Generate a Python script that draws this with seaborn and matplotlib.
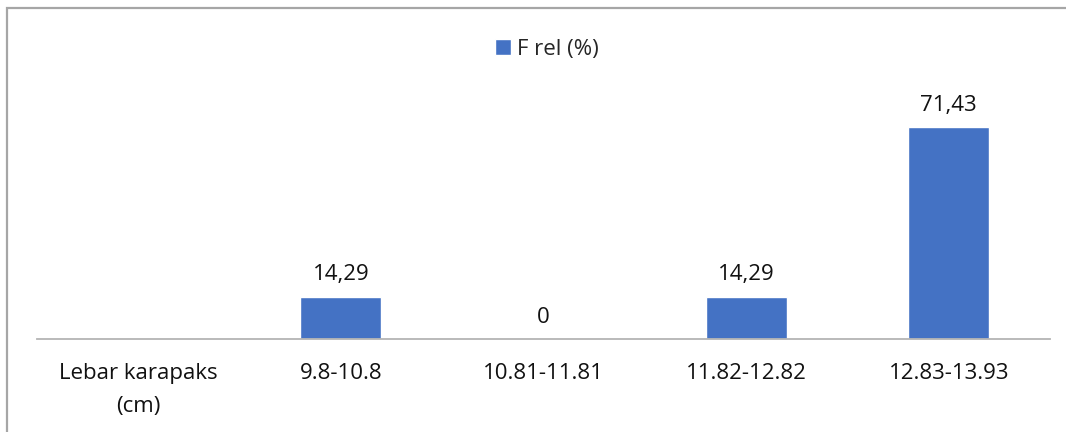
import numpy as np
import pandas as pd
import seaborn as sns
import matplotlib.pyplot as plt
from matplotlib.patches import Rectangle

categories = ["Lebar karapaks\n(cm)", "9.8-10.8", "10.81-11.81", "11.82-12.82", "12.83-13.93"]
f_rel = [np.nan, 14.29, 0, 14.29, 71.43]
series_name = "F rel (%)"

sns.set_theme(style="white")
plt.rcParams["font.family"] = ["Open Sans", "DejaVu Sans"]
FS = 16

df = pd.DataFrame({"kelas": categories, "f_rel": f_rel})

fig = plt.figure(figsize=(10.66, 4.32), dpi=100)
ax = fig.add_axes([37 / 1066, 93 / 432, 1013 / 1066, 237.4 / 432])

sns.barplot(data=df, x="kelas", y="f_rel", order=categories, color="#4472C4",
            width=0.4, label=series_name, ax=ax, saturation=1)

ax.set_ylim(0, 80)
ax.set_xlim(-0.5, len(categories) - 0.5)
ax.set_xlabel("")
ax.set_ylabel("")
ax.set_yticks([])
for side in ["top", "right", "left"]:
    ax.spines[side].set_visible(False)
ax.spines["bottom"].set_color("#b4b4b4")
ax.spines["bottom"].set_linewidth(1.3)
ax.tick_params(axis="x", length=0, pad=17, labelsize=FS, labelcolor="#111111")
for lbl in ax.get_xticklabels():
    lbl.set_linespacing(1.75)

vals = [v for v in f_rel if not np.isnan(v)]
labels = [f"{v:g}".replace(".", ",") for v in vals]
ax.bar_label(ax.containers[0], labels=labels, padding=8, fontsize=FS, color="#111111")

ax.legend(loc="center", bbox_to_anchor=(547 / 1066, 1 - 49 / 432), bbox_transform=fig.transFigure,
          frameon=False, fontsize=FS, handlelength=0.7, handleheight=0.7, handletextpad=0.3)

fig.patches.append(Rectangle((7 / 1066, -0.1), 1.2, 1.1 - 8 / 432, transform=fig.transFigure,
                             fill=False, edgecolor="#a6a6a6", linewidth=1.6))

fig.savefig("out.png", dpi=100)
